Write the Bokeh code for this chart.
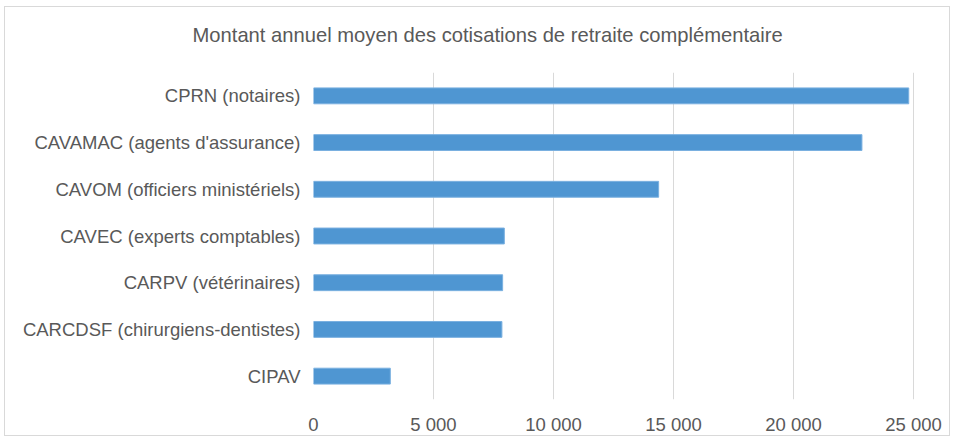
from bokeh.plotting import figure
from bokeh.models import FactorRange, Range1d, FixedTicker
from bokeh.embed import file_html
from bokeh.resources import INLINE

categories = [
    "CPRN (notaires)",
    "CAVAMAC (agents d'assurance)",
    "CAVOM (officiers ministériels)",
    "CAVEC (experts comptables)",
    "CARPV (vétérinaires)",
    "CARCDSF (chirurgiens-dentistes)",
    "CIPAV",
]
values = [24800, 22850, 14380, 7950, 7880, 7850, 3200]
tick_values = [0, 5000, 10000, 15000, 20000, 25000]
tick_labels = ["0", "5 000", "10 000", "15 000", "20 000", "25 000"]
title_text = "Montant annuel moyen des cotisations de retraite complémentaire"

TEXT = "#595959"
GRID = "#D9D9D9"
FONT = "Liberation Sans"

p = figure(
    width=946, height=430,
    y_range=FactorRange(factors=list(reversed(categories))),
    x_range=Range1d(0, 25040),
    output_backend="svg", toolbar_location=None,
    title=title_text + "\n",
    min_border_left=308, min_border_right=37, min_border_top=65, min_border_bottom=36,
    styles={"border": "1px solid #D9D9D9", "margin-left": "4px", "margin-top": "6px"},
)

p.hbar(y=categories, right=values, height=0.34, left=0,
       fill_color="#4F96D2", line_color="#7AB0E0", line_width=1)

p.title.align = "left"
p.title.text_font = FONT
p.title.text_font_size = "20.2px"
p.title.text_font_style = "normal"
p.title.text_color = TEXT
p.title.text_line_height = 1.2
p.title.standoff = 0
p.title.offset = -121

p.outline_line_color = None
p.background_fill_color = "white"
p.border_fill_color = "white"

p.ygrid.grid_line_color = None
p.xgrid.grid_line_color = GRID
p.xgrid.grid_line_width = 1
p.xaxis.ticker = FixedTicker(ticks=tick_values)
p.xaxis.major_label_overrides = {v: l for v, l in zip(tick_values, tick_labels)}

for ax in (p.xaxis, p.yaxis):
    ax.axis_line_color = None
    ax.major_tick_line_color = None
    ax.minor_tick_line_color = None
    ax.major_label_text_font = FONT
    ax.major_label_text_font_size = "18.5px"
    ax.major_label_text_color = TEXT

p.yaxis.major_label_standoff = 7
p.xaxis.major_label_standoff = 8

open("out.html", "w").write(file_html(p, INLINE))
